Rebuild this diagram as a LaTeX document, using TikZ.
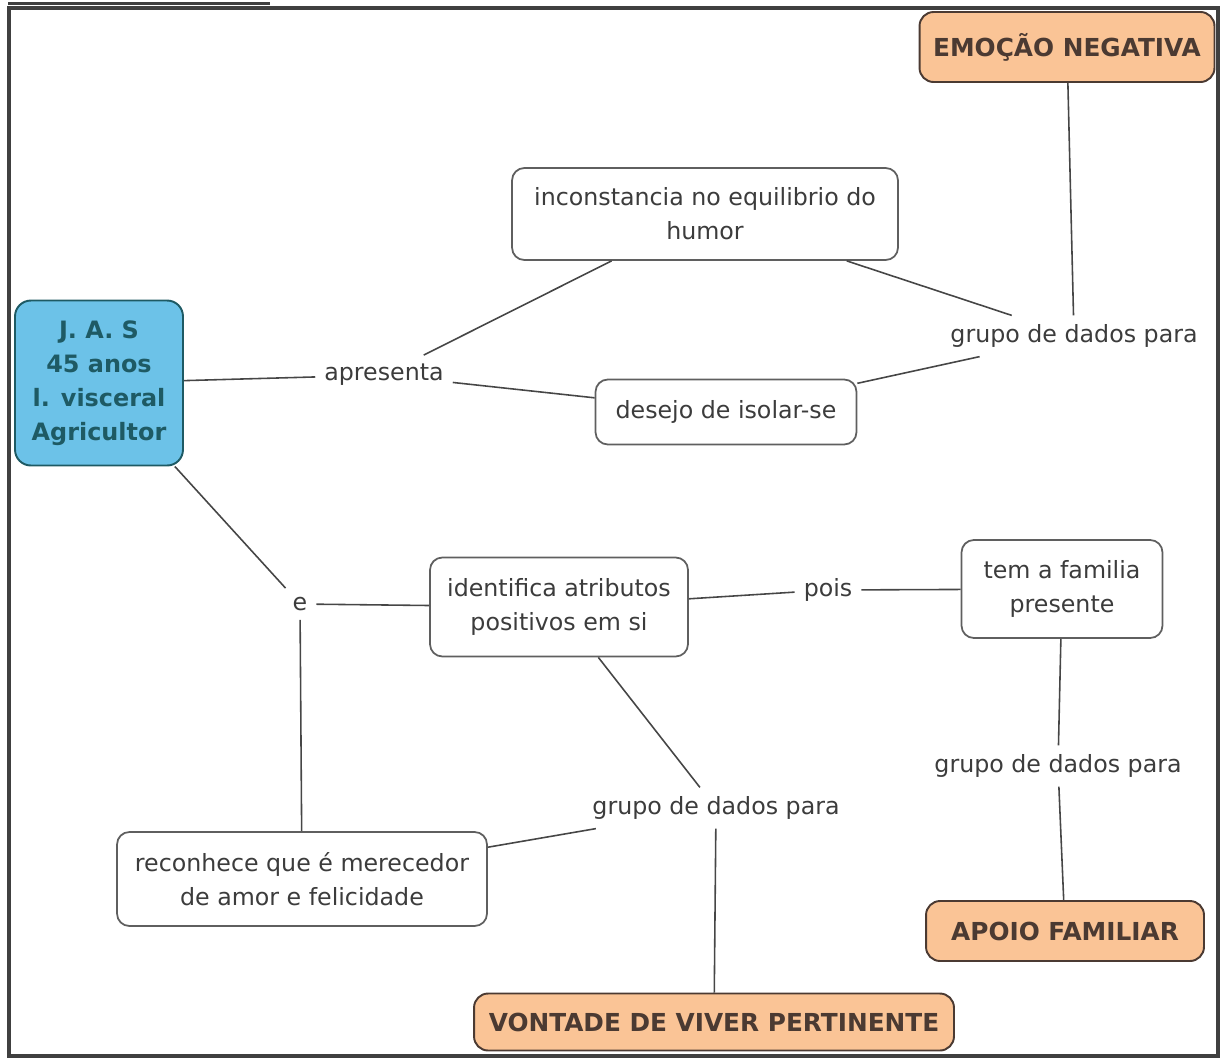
\documentclass[tikz,border=0pt]{standalone}
\usepackage{fontspec}
\setmainfont{DejaVu Sans}
\usetikzlibrary{positioning}
\definecolor{txtgray}{RGB}{60,60,60}
\definecolor{boxline}{RGB}{95,95,95}
\definecolor{linkgray}{RGB}{70,70,70}
\definecolor{orangefill}{RGB}{250,196,150}
\definecolor{orangetxt}{RGB}{75,58,50}
\definecolor{bluefill}{RGB}{108,194,232}
\definecolor{bluetxt}{RGB}{30,90,100}

\begin{document}
\begin{tikzpicture}[x=0.02cm, y=-0.02cm, font=\fontsize{13.5}{19.4}\selectfont,
    concept/.style={draw=boxline, fill=white, rounded corners=7pt, line width=1pt, align=center, text=txtgray},
    topic/.style={draw=orangetxt, fill=orangefill, rounded corners=8pt, line width=1.1pt, align=center, text=orangetxt, font=\fontsize{14.1}{19.4}\selectfont\bfseries},
    person/.style={draw=bluetxt, fill=bluefill, rounded corners=9pt, line width=1.1pt, align=center, text=bluetxt, font=\fontsize{13.6}{19.4}\selectfont\bfseries},
    linkword/.style={text=txtgray, inner sep=5pt},
    link/.style={draw=linkgray, line width=0.9pt}]
    \useasboundingbox (0,0) rectangle (1223,1059);
    % frame
    \draw[line width=2pt, black!75] (9,8) rectangle (1218,1056);
    \draw[line width=2.2pt, black!75] (8,3.5) -- (270,3.5);
    % concepts
    \node[person, minimum width=3.36cm, minimum height=3.3cm] (jas) at (99,383) {J. A. S\\45 anos\\l. visceral\\Agricultor};
    \node[topic, minimum width=5.9cm, minimum height=1.4cm] (emocao) at (1067,47) {EMOÇÃO NEGATIVA};
    \node[concept, minimum width=7.72cm, minimum height=1.84cm] (humor) at (705,214) {inconstancia no equilibrio do\\humor};
    \node[concept, minimum width=5.22cm, minimum height=1.3cm] (isolar) at (726,412) {desejo de isolar-se};
    \node[concept, minimum width=5.16cm, minimum height=1.98cm] (atributos) at (559,607) {identifica atributos\\positivos em si};
    \node[concept, minimum width=4.02cm, minimum height=1.96cm] (familia) at (1062,589) {tem a familia\\presente};
    \node[concept, minimum width=7.4cm, minimum height=1.88cm] (amor) at (302,879) {reconhece que é merecedor\\de amor e felicidade};
    \node[topic, minimum width=5.56cm, minimum height=1.2cm] (apoio) at (1065,931) {APOIO FAMILIAR};
    \node[topic, minimum width=9.6cm, minimum height=1.14cm] (vontade) at (714,1022) {VONTADE DE VIVER PERTINENTE};
    % linking words
    \node[linkword] (apresenta) at (384,375) {apresenta};
    \node[linkword] (grupoA) at (1074,336) {grupo de dados para};
    \node[linkword] (e) at (300,604) {e};
    \node[linkword] (pois) at (828,590) {pois};
    \node[linkword] (grupoB) at (1058,766) {grupo de dados para};
    \node[linkword] (grupoC) at (716,808) {grupo de dados para};
    % connectors
    \foreach \a/\b in {jas/apresenta, apresenta/humor, apresenta/isolar, humor/grupoA, isolar/grupoA, grupoA/emocao,
        jas/e, e/atributos, e/amor, atributos/pois, pois/familia, familia/grupoB, grupoB/apoio,
        atributos/grupoC, amor/grupoC, grupoC/vontade}
        \draw[link] (\a) -- (\b);
\end{tikzpicture}
\end{document}
